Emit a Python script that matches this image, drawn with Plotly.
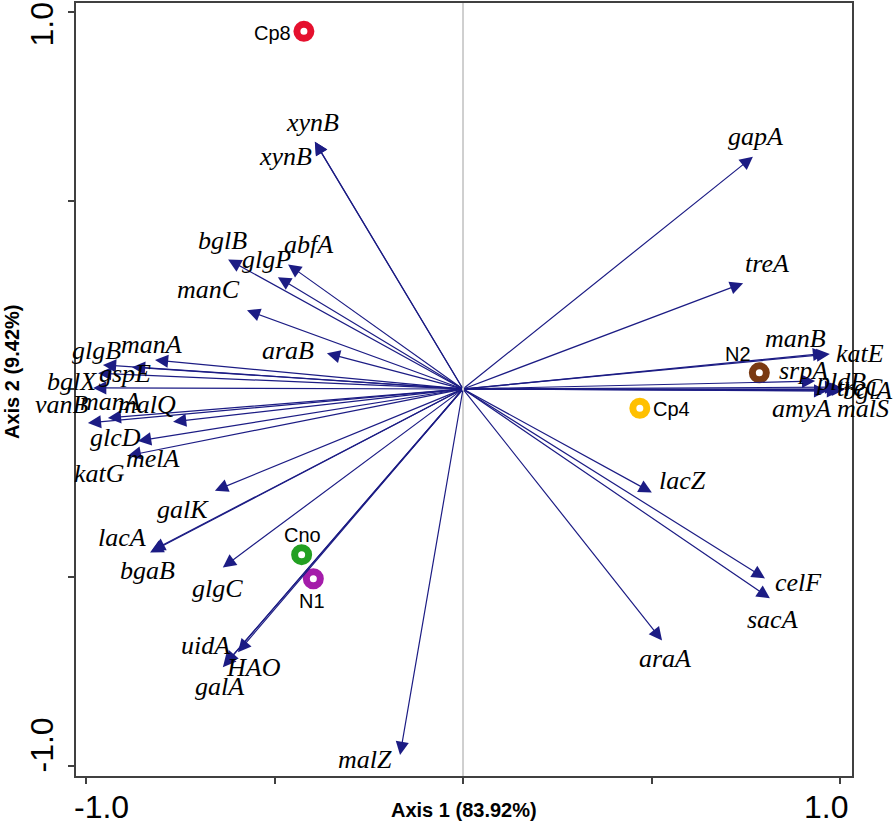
import plotly.graph_objects as go

# ---- gene arrows (biplot loadings) ----
genes = ["xynB", "xynB", "bglB", "glgP", "abfA", "manC", "araB", "manA", "glgB", "gspE",
         "bglX", "vanB", "manA", "katG", "malQ", "glcD", "melA", "galK", "lacA", "bgaB",
         "glgC", "uidA", "HAO", "galA", "malZ", "araA", "sacA", "celF", "lacZ", "gapA",
         "treA", "manB", "katE", "srpA", "pldB", "bglA", "treC", "amyA", "malS"]
tip_x = [-0.393, -0.393, -0.623, -0.491, -0.464, -0.573, -0.361, -0.817, -0.955, -0.878,
         -0.968, -0.981, -0.942, -0.995, -0.769, -0.862, -0.889, -0.658, -0.830, -0.825,
         -0.637, -0.597, -0.631, -0.637, -0.167, 0.528, 0.814, 0.801, 0.501, 0.769,
         0.743, 0.963, 0.973, 0.934, 0.995, 1.013, 1.008, 0.966, 1.000]
tip_y = [0.657, 0.657, 0.344, 0.297, 0.331, 0.209, 0.095, 0.077, 0.064, 0.058,
         0.042, 0.003, -0.077, -0.090, -0.087, -0.138, -0.177, -0.270, -0.434, -0.429,
         -0.474, -0.699, -0.731, -0.739, -0.972, -0.668, -0.556, -0.503, -0.275, 0.617,
         0.281, 0.095, 0.093, 0.021, 0.005, -0.001, 0.000, -0.005, -0.005]
label_x = [-0.398, -0.472, -0.639, -0.520, -0.411, -0.676, -0.464, -0.825, -0.971, -0.897,
           -1.037, -1.064, -0.936, -0.963, -0.838, -0.923, -0.822, -0.743, -0.905, -0.836,
           -0.650, -0.684, -0.557, -0.645, -0.260, 0.536, 0.822, 0.889, 0.581, 0.775,
           0.806, 0.881, 1.053, 0.902, 1.000, 1.072, 1.053, 0.899, 1.061]
label_y = [0.707, 0.617, 0.395, 0.344, 0.384, 0.265, 0.101, 0.119, 0.101, 0.042,
           0.021, -0.042, -0.032, -0.225, -0.042, -0.130, -0.185, -0.321, -0.395, -0.482,
           -0.530, -0.681, -0.739, -0.789, -0.985, -0.715, -0.612, -0.514, -0.244, 0.670,
           0.334, 0.135, 0.093, 0.048, 0.021, -0.005, 0.005, -0.053, -0.053]

# ---- samples ----
samples = ["Cp8", "Cno", "N1", "Cp4", "N2"]
sample_x = [-0.422, -0.428, -0.397, 0.469, 0.786]
sample_y = [0.950, -0.440, -0.504, -0.051, 0.043]
sample_lx = [-0.504, -0.427, -0.401, 0.554, 0.729]
sample_ly = [0.946, -0.389, -0.562, -0.053, 0.093]
sample_colors = ["#e5102e", "#22a022", "#a41caa", "#ffc000", "#7a3a12"]

x_title = "Axis 1 (83.92%)"
y_title = "Axis 2 (9.42%)"

X_RANGE = [-1.0265, 1.0318]
Y_RANGE = [-1.0278, 1.0252]


def to_paper_x(v):
    return (v - X_RANGE[0]) / (X_RANGE[1] - X_RANGE[0])


def to_paper_y(v):
    return (v - Y_RANGE[0]) / (Y_RANGE[1] - Y_RANGE[0])


fig = go.Figure()

fig.add_trace(go.Scatter(
    x=sample_x, y=sample_y, mode="markers",
    marker=dict(symbol="circle", size=14, color="white",
                line=dict(color=sample_colors, width=7)),
    hoverinfo="skip", showlegend=False))

C = dict(xanchor="center", yanchor="middle")
ann = []
for gx, gy in zip(tip_x, tip_y):
    ann.append(dict(x=gx, y=gy, ax=0, ay=0, xref="x", yref="y", axref="x", ayref="y",
                    text="", showarrow=True, arrowhead=2, arrowsize=2.2, arrowwidth=1.2,
                    arrowcolor="#1c1c84", standoff=0, startstandoff=0))
# labels placed in paper space (converted from data units) so that labels beyond the
# axis range are still shown
for g, lx, ly in zip(genes, label_x, label_y):
    ann.append(dict(x=to_paper_x(lx), y=to_paper_y(ly), xref="paper", yref="paper",
                    text="<i>%s</i>" % g, showarrow=False,
                    font=dict(family="Liberation Serif", size=26, color="black"), **C))
for s, lx, ly in zip(samples, sample_lx, sample_ly):
    ann.append(dict(x=to_paper_x(lx), y=to_paper_y(ly), xref="paper", yref="paper",
                    text=s, showarrow=False,
                    font=dict(family="Liberation Sans", size=20, color="black"), **C))

tick_font = dict(family="Liberation Sans", size=32, color="black")
ann += [
    dict(x=-1.0, y=0, xref="x", yref="paper", text="-1.0", showarrow=False,
         xshift=16, yshift=-31, font=tick_font, **C),
    dict(x=1.0, y=0, xref="x", yref="paper", text="1.0", showarrow=False,
         xshift=-14, yshift=-31, font=tick_font, **C),
    dict(x=0, y=1.0, xref="paper", yref="y", text="1.0", showarrow=False,
         xshift=-34, yshift=-12, textangle=-90, font=tick_font, **C),
    dict(x=0, y=-1.0, xref="paper", yref="y", text="-1.0", showarrow=False,
         xshift=-34, yshift=20, textangle=-90, font=tick_font, **C),
    dict(x=0.4994, y=0, xref="paper", yref="paper", text="<b>%s</b>" % x_title,
         showarrow=False, yshift=-34,
         font=dict(family="Liberation Sans", size=20, color="black"), **C),
    dict(x=0, y=0.5226, xref="paper", yref="paper", text="<b>%s</b>" % y_title,
         showarrow=False, xshift=-64, textangle=-90,
         font=dict(family="Liberation Sans", size=20, color="black"), **C),
]

fig.add_shape(type="line", x0=0, x1=0, y0=0, y1=1, xref="x", yref="paper",
              line=dict(color="#a0a0a0", width=1), layer="below")

axis_common = dict(showgrid=False, zeroline=False, showline=True, mirror=True,
                   linecolor="#404040", linewidth=2, ticks="outside", ticklen=6,
                   tickwidth=1.5, tickcolor="#404040", showticklabels=False)

fig.update_layout(
    width=896, height=824,
    margin=dict(l=76, r=44, t=1, b=48),
    paper_bgcolor="white", plot_bgcolor="white",
    xaxis=dict(range=X_RANGE, tickvals=[-1, -0.5, 0, 0.5, 1], **axis_common),
    yaxis=dict(range=Y_RANGE, tickvals=[-1, -0.5, 0, 0.5, 1], **axis_common),
    annotations=ann,
    showlegend=False,
)

fig.write_html("out.html", config={"displayModeBar": False},
               post_script="document.body.style.margin='0px';")
